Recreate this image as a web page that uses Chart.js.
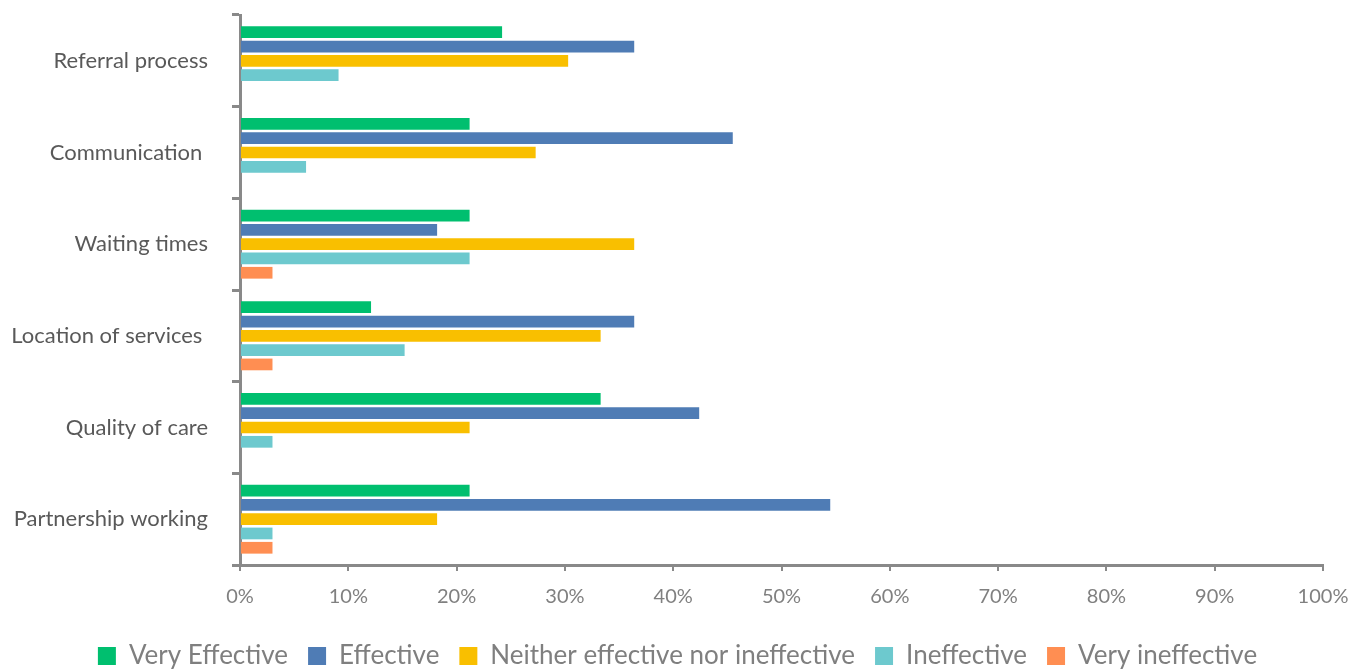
<!DOCTYPE html>
<html><head><meta charset="utf-8">
<script src="https://cdn.jsdelivr.net/npm/chart.js@4/dist/chart.umd.min.js"></script>
<style>html,body{margin:0;padding:0;background:#fff}#wrap{width:1355px;height:670px}</style>
</head><body><div id="wrap"><canvas id="c" width="1355" height="670"></canvas></div>
<script>
const categories = ["Referral process", "Communication ", "Waiting times", "Location of services ", "Quality of care", "Partnership working"];
const seriesNames = ["Very Effective", "Effective", "Neither effective nor ineffective", "Ineffective", "Very ineffective"];
const veryEffective = [24.2, 21.2, 21.2, 12.1, 33.3, 21.2];
const effective = [36.4, 45.5, 18.2, 36.4, 42.4, 54.5];
const neither = [30.3, 27.3, 36.4, 33.3, 21.2, 18.2];
const ineffective = [9.1, 6.1, 21.2, 15.2, 3.0, 3.0];
const veryIneffective = [0, 0, 3.0, 3.0, 0, 3.0];
const xTicks = [0, 10, 20, 30, 40, 50, 60, 70, 80, 90, 100];
const colors = ["#00BF6F", "#4F7CB5", "#F9BF00", "#6DC9CE", "#FF8E52"];
const values = [veryEffective, effective, neither, ineffective, veryIneffective];

new Chart(document.getElementById('c'), {
  type: 'bar',
  data: {
    labels: categories,
    datasets: seriesNames.map((n, i) => ({
      label: n, data: values[i], backgroundColor: colors[i], borderWidth: 0,
      categoryPercentage: 0.78, barPercentage: 0.82
    }))
  },
  options: {
    indexAxis: 'y', responsive: false, animation: false,
    layout: { padding: { left: 0, right: 0, top: 15, bottom: -9 } },
    plugins: {
      legend: { position: 'bottom', labels: { font: { family: 'Lato', size: 26 }, color: '#7f7f7f', boxWidth: 18, boxHeight: 18, padding: 20 } },
      tooltip: { enabled: false }
    },
    scales: {
      x: {
        min: 0, max: 100,
        afterBuildTicks: s => { s.ticks = xTicks.map(v => ({ value: v })); },
        afterFit: s => { s.paddingRight = 32; s.paddingLeft = 0; },
        ticks: { callback: v => v + '%', font: { family: 'Lato', size: 20 }, color: '#808080', padding: 14, maxRotation: 0 },
        grid: { drawOnChartArea: false, drawTicks: true, tickLength: 6, color: '#898989', lineWidth: 2 },
        border: { color: '#898989', width: 3 }
      },
      y: {
        afterFit: s => { s.paddingTop = 0; s.paddingBottom = 0; s.width = 240; },
        ticks: { font: { family: 'Lato', size: 22 }, color: '#595959', padding: 24 },
        grid: { drawOnChartArea: false, drawTicks: true, tickLength: 8, color: '#898989', lineWidth: 3, offset: true },
        border: { color: '#898989', width: 3 }
      }
    }
  }
});
</script></body></html>
